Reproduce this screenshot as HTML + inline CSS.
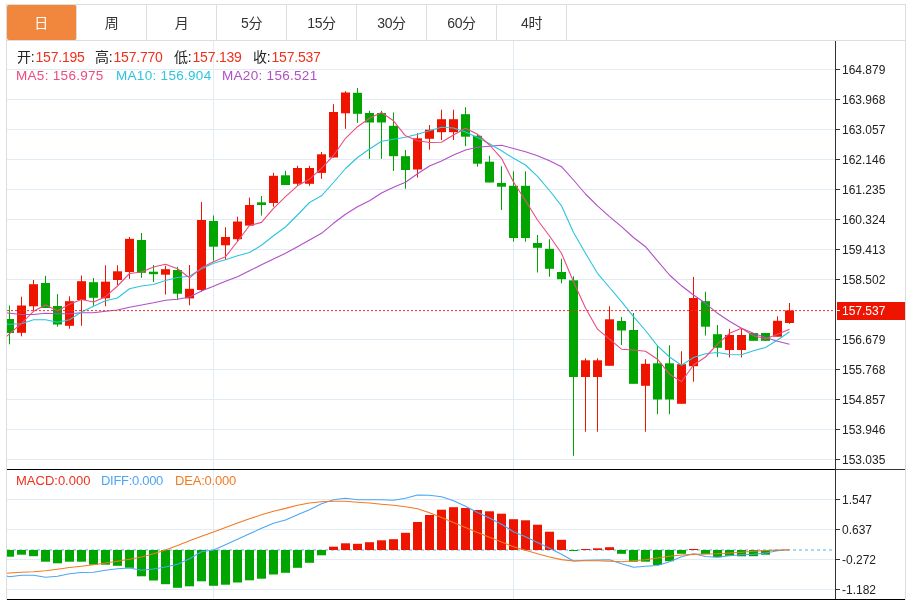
<!DOCTYPE html>
<html lang="zh-CN"><head><meta charset="utf-8"><title>K线图</title>
<style>
html,body{margin:0;padding:0;background:#fff;}
body{width:913px;height:600px;position:relative;overflow:hidden;font-family:"Liberation Sans","Noto Sans CJK SC",sans-serif;}
#frame{position:absolute;left:6px;top:4px;width:898px;height:596px;border:1px solid #ddd;border-bottom:none;box-sizing:content-box;}
#tabline{position:absolute;left:7px;top:40px;width:898px;height:1px;background:#ddd;}
.tab{position:absolute;top:5px;width:69px;height:35px;line-height:37px;text-align:center;font-size:14px;color:#333;border-right:1px solid #ddd;letter-spacing:-0.4px;}
.tab.on{background:#f0873c;color:#fff;border-radius:2px;text-indent:-1px;}
.t{position:absolute;white-space:nowrap;font-size:13px;line-height:16px;}
.ax{position:absolute;left:842px;font-size:12px;line-height:14px;color:#222;white-space:nowrap;}
.r{color:#f0301f}
.a .r{margin-left:1px}
.a{font-size:14px;color:#222;letter-spacing:-0.2px}
.b{font-size:13.5px;letter-spacing:0.3px}
</style></head><body>
<svg width="913" height="600" viewBox="0 0 913 600" style="position:absolute;left:0;top:0">
<defs><clipPath id="cp"><rect x="7" y="41" width="828" height="558"/></clipPath></defs>
<rect x="7" y="69" width="828" height="1" fill="#e1ebf3"/>
<rect x="7" y="99" width="828" height="1" fill="#e1ebf3"/>
<rect x="7" y="129" width="828" height="1" fill="#e1ebf3"/>
<rect x="7" y="159" width="828" height="1" fill="#e1ebf3"/>
<rect x="7" y="189" width="828" height="1" fill="#e1ebf3"/>
<rect x="7" y="219" width="828" height="1" fill="#e1ebf3"/>
<rect x="7" y="249" width="828" height="1" fill="#e1ebf3"/>
<rect x="7" y="279" width="828" height="1" fill="#e1ebf3"/>
<rect x="7" y="339" width="828" height="1" fill="#e1ebf3"/>
<rect x="7" y="369" width="828" height="1" fill="#e1ebf3"/>
<rect x="7" y="399" width="828" height="1" fill="#e1ebf3"/>
<rect x="7" y="429" width="828" height="1" fill="#e1ebf3"/>
<rect x="7" y="459" width="828" height="1" fill="#e1ebf3"/>
<rect x="7" y="499" width="828" height="1" fill="#e1ebf3"/>
<rect x="7" y="529" width="828" height="1" fill="#e1ebf3"/>
<rect x="7" y="559" width="828" height="1" fill="#e1ebf3"/>
<rect x="7" y="589" width="828" height="1" fill="#e1ebf3"/>
<rect x="213" y="41" width="1" height="558" fill="#e1ebf3"/>
<rect x="513" y="41" width="1" height="558" fill="#e1ebf3"/>
<line x1="7" y1="550" x2="832" y2="550" stroke="#a9d9ec" stroke-width="2" stroke-dasharray="3 3" />
<g clip-path="url(#cp)">
<rect x="9" y="305.5" width="1" height="38.8" fill="#00a500"/>
<rect x="5" y="319" width="9" height="14" fill="#00a500"/>
<rect x="21" y="296.7" width="1" height="39.6" fill="#ee1500"/>
<rect x="17" y="305.5" width="9" height="27.3" fill="#ee1500"/>
<rect x="33" y="280" width="1" height="30.8" fill="#ee1500"/>
<rect x="29" y="284.2" width="9" height="22.1" fill="#ee1500"/>
<rect x="45" y="275.8" width="1" height="32.2" fill="#00a500"/>
<rect x="41" y="283" width="9" height="25" fill="#00a500"/>
<rect x="57" y="294.2" width="1" height="32.5" fill="#00a500"/>
<rect x="53" y="306" width="9" height="18.5" fill="#00a500"/>
<rect x="69" y="296.3" width="1" height="32.4" fill="#ee1500"/>
<rect x="65" y="301.2" width="9" height="24.6" fill="#ee1500"/>
<rect x="81" y="275.5" width="1" height="50.3" fill="#ee1500"/>
<rect x="77" y="281.2" width="9" height="18.8" fill="#ee1500"/>
<rect x="93" y="278" width="1" height="27.8" fill="#00a500"/>
<rect x="89" y="282.2" width="9" height="15.6" fill="#00a500"/>
<rect x="105" y="265.3" width="1" height="40.9" fill="#ee1500"/>
<rect x="101" y="281.7" width="9" height="16.6" fill="#ee1500"/>
<rect x="117" y="265.3" width="1" height="19.7" fill="#ee1500"/>
<rect x="113" y="271.3" width="9" height="8.7" fill="#ee1500"/>
<rect x="129" y="237" width="1" height="41.8" fill="#ee1500"/>
<rect x="125" y="238.8" width="9" height="33.2" fill="#ee1500"/>
<rect x="141" y="233" width="1" height="44.8" fill="#00a500"/>
<rect x="137" y="240" width="9" height="32.8" fill="#00a500"/>
<rect x="153" y="265" width="1" height="17" fill="#00a500"/>
<rect x="149" y="271.7" width="9" height="2.5" fill="#00a500"/>
<rect x="165" y="265.8" width="1" height="28.7" fill="#ee1500"/>
<rect x="161" y="269.2" width="9" height="5.5" fill="#ee1500"/>
<rect x="177" y="266.7" width="1" height="33.3" fill="#00a500"/>
<rect x="173" y="270" width="9" height="23.7" fill="#00a500"/>
<rect x="189" y="265" width="1" height="40.3" fill="#ee1500"/>
<rect x="185" y="288.8" width="9" height="9.6" fill="#ee1500"/>
<rect x="201" y="202" width="1" height="89.7" fill="#ee1500"/>
<rect x="197" y="220" width="9" height="70" fill="#ee1500"/>
<rect x="213" y="215.5" width="1" height="45.3" fill="#00a500"/>
<rect x="209" y="221" width="9" height="25.7" fill="#00a500"/>
<rect x="225" y="227.2" width="1" height="32.8" fill="#ee1500"/>
<rect x="221" y="237" width="9" height="8.3" fill="#ee1500"/>
<rect x="237" y="216.7" width="1" height="25" fill="#ee1500"/>
<rect x="233" y="221.5" width="9" height="17.7" fill="#ee1500"/>
<rect x="249" y="197.6" width="1" height="28" fill="#ee1500"/>
<rect x="245" y="205" width="9" height="20.6" fill="#ee1500"/>
<rect x="261" y="196" width="1" height="19.6" fill="#00a500"/>
<rect x="257" y="202.3" width="9" height="2.7" fill="#00a500"/>
<rect x="273" y="172.8" width="1" height="33.9" fill="#ee1500"/>
<rect x="269" y="175.8" width="9" height="27.2" fill="#ee1500"/>
<rect x="285" y="170.8" width="1" height="14.2" fill="#00a500"/>
<rect x="281" y="175.3" width="9" height="9.7" fill="#00a500"/>
<rect x="297" y="165.8" width="1" height="20" fill="#ee1500"/>
<rect x="293" y="168" width="9" height="15.8" fill="#ee1500"/>
<rect x="309" y="165.8" width="1" height="20" fill="#ee1500"/>
<rect x="305" y="168" width="9" height="15.8" fill="#ee1500"/>
<rect x="321" y="152" width="1" height="26.8" fill="#ee1500"/>
<rect x="317" y="154.3" width="9" height="18.6" fill="#ee1500"/>
<rect x="333" y="104.2" width="1" height="53.3" fill="#ee1500"/>
<rect x="329" y="112" width="9" height="45.5" fill="#ee1500"/>
<rect x="345" y="91.2" width="1" height="37.6" fill="#ee1500"/>
<rect x="341" y="92.5" width="9" height="20.8" fill="#ee1500"/>
<rect x="357" y="88" width="1" height="34.8" fill="#00a500"/>
<rect x="353" y="92.8" width="9" height="21" fill="#00a500"/>
<rect x="369" y="110.8" width="1" height="48" fill="#00a500"/>
<rect x="365" y="113" width="9" height="9.5" fill="#00a500"/>
<rect x="381" y="110.8" width="1" height="48" fill="#00a500"/>
<rect x="377" y="113" width="9" height="9.5" fill="#00a500"/>
<rect x="393" y="112.5" width="1" height="58.5" fill="#00a500"/>
<rect x="389" y="125.8" width="9" height="30.4" fill="#00a500"/>
<rect x="405" y="150" width="1" height="38.7" fill="#00a500"/>
<rect x="401" y="156.2" width="9" height="13.8" fill="#00a500"/>
<rect x="417" y="133.3" width="1" height="44.2" fill="#ee1500"/>
<rect x="413" y="138.3" width="9" height="31.2" fill="#ee1500"/>
<rect x="429" y="125" width="1" height="24.7" fill="#ee1500"/>
<rect x="425" y="129.7" width="9" height="9.1" fill="#ee1500"/>
<rect x="441" y="109.7" width="1" height="30.3" fill="#ee1500"/>
<rect x="437" y="119.2" width="9" height="13" fill="#ee1500"/>
<rect x="453" y="109.7" width="1" height="30.3" fill="#ee1500"/>
<rect x="449" y="119.2" width="9" height="13" fill="#ee1500"/>
<rect x="465" y="107.2" width="1" height="39" fill="#00a500"/>
<rect x="461" y="114.2" width="9" height="22.5" fill="#00a500"/>
<rect x="477" y="134.2" width="1" height="32.5" fill="#00a500"/>
<rect x="473" y="135.8" width="9" height="27.9" fill="#00a500"/>
<rect x="489" y="155.8" width="1" height="26.7" fill="#00a500"/>
<rect x="485" y="161.7" width="9" height="20.8" fill="#00a500"/>
<rect x="501" y="166.2" width="1" height="43.8" fill="#00a500"/>
<rect x="497" y="183" width="9" height="3.7" fill="#00a500"/>
<rect x="513" y="171.3" width="1" height="70.4" fill="#00a500"/>
<rect x="509" y="185.8" width="9" height="52.2" fill="#00a500"/>
<rect x="525" y="171.3" width="1" height="70.4" fill="#00a500"/>
<rect x="521" y="185.8" width="9" height="52.2" fill="#00a500"/>
<rect x="537" y="235" width="1" height="37.5" fill="#00a500"/>
<rect x="533" y="243" width="9" height="4.8" fill="#00a500"/>
<rect x="549" y="239.2" width="1" height="37.5" fill="#00a500"/>
<rect x="545" y="248.8" width="9" height="20" fill="#00a500"/>
<rect x="561" y="258.8" width="1" height="24.5" fill="#00a500"/>
<rect x="557" y="272" width="9" height="7.2" fill="#00a500"/>
<rect x="573" y="276.3" width="1" height="179.5" fill="#00a500"/>
<rect x="569" y="280.3" width="9" height="96.7" fill="#00a500"/>
<rect x="585" y="358.3" width="1" height="73.4" fill="#ee1500"/>
<rect x="581" y="360.3" width="9" height="16.7" fill="#ee1500"/>
<rect x="597" y="358.3" width="1" height="73.4" fill="#ee1500"/>
<rect x="593" y="360.3" width="9" height="16.7" fill="#ee1500"/>
<rect x="609" y="306.2" width="1" height="59.6" fill="#ee1500"/>
<rect x="605" y="319.3" width="9" height="46.5" fill="#ee1500"/>
<rect x="621" y="317" width="1" height="28" fill="#00a500"/>
<rect x="617" y="321" width="9" height="9.5" fill="#00a500"/>
<rect x="633" y="313" width="1" height="70.8" fill="#00a500"/>
<rect x="629" y="330" width="9" height="53.8" fill="#00a500"/>
<rect x="645" y="359.2" width="1" height="72.5" fill="#ee1500"/>
<rect x="641" y="363.8" width="9" height="22" fill="#ee1500"/>
<rect x="657" y="345.3" width="1" height="68.9" fill="#00a500"/>
<rect x="653" y="363.3" width="9" height="36.2" fill="#00a500"/>
<rect x="669" y="345.3" width="1" height="68.9" fill="#00a500"/>
<rect x="665" y="363.3" width="9" height="36.2" fill="#00a500"/>
<rect x="681" y="351.2" width="1" height="52.6" fill="#ee1500"/>
<rect x="677" y="364.2" width="9" height="39.6" fill="#ee1500"/>
<rect x="693" y="277" width="1" height="104.7" fill="#ee1500"/>
<rect x="689" y="298" width="9" height="68.2" fill="#ee1500"/>
<rect x="705" y="291.7" width="1" height="43.8" fill="#00a500"/>
<rect x="701" y="301.2" width="9" height="25.5" fill="#00a500"/>
<rect x="717" y="325" width="1" height="32" fill="#00a500"/>
<rect x="713" y="334.2" width="9" height="13.6" fill="#00a500"/>
<rect x="729" y="328.8" width="1" height="28.7" fill="#ee1500"/>
<rect x="725" y="335" width="9" height="15" fill="#ee1500"/>
<rect x="741" y="328.8" width="1" height="28.7" fill="#ee1500"/>
<rect x="737" y="335" width="9" height="15" fill="#ee1500"/>
<rect x="753" y="333" width="1" height="7.8" fill="#00a500"/>
<rect x="749" y="333" width="9" height="7.8" fill="#00a500"/>
<rect x="765" y="333" width="1" height="7.8" fill="#00a500"/>
<rect x="761" y="333" width="9" height="7.8" fill="#00a500"/>
<rect x="777" y="316.3" width="1" height="20.4" fill="#ee1500"/>
<rect x="773" y="320.8" width="9" height="15.9" fill="#ee1500"/>
<rect x="789" y="303" width="1" height="20.8" fill="#ee1500"/>
<rect x="785" y="310.5" width="9" height="12.5" fill="#ee1500"/>
<rect x="5" y="550" width="9" height="6.7" fill="#00a500"/>
<rect x="17" y="550" width="9" height="4.7" fill="#00a500"/>
<rect x="29" y="550" width="9" height="6.2" fill="#00a500"/>
<rect x="41" y="550" width="9" height="11.7" fill="#00a500"/>
<rect x="53" y="550" width="9" height="13.3" fill="#00a500"/>
<rect x="65" y="550" width="9" height="11.7" fill="#00a500"/>
<rect x="77" y="550" width="9" height="11.7" fill="#00a500"/>
<rect x="89" y="550" width="9" height="14.7" fill="#00a500"/>
<rect x="101" y="550" width="9" height="14.7" fill="#00a500"/>
<rect x="113" y="550" width="9" height="15.8" fill="#00a500"/>
<rect x="125" y="550" width="9" height="17.8" fill="#00a500"/>
<rect x="137" y="550" width="9" height="26.3" fill="#00a500"/>
<rect x="149" y="550" width="9" height="30.5" fill="#00a500"/>
<rect x="161" y="550" width="9" height="34.2" fill="#00a500"/>
<rect x="173" y="550" width="9" height="37.8" fill="#00a500"/>
<rect x="185" y="550" width="9" height="36.3" fill="#00a500"/>
<rect x="197" y="550" width="9" height="31.3" fill="#00a500"/>
<rect x="209" y="550" width="9" height="35.8" fill="#00a500"/>
<rect x="221" y="550" width="9" height="34.7" fill="#00a500"/>
<rect x="233" y="550" width="9" height="32.5" fill="#00a500"/>
<rect x="245" y="550" width="9" height="30.3" fill="#00a500"/>
<rect x="257" y="550" width="9" height="28.7" fill="#00a500"/>
<rect x="269" y="550" width="9" height="24.5" fill="#00a500"/>
<rect x="281" y="550" width="9" height="22.8" fill="#00a500"/>
<rect x="293" y="550" width="9" height="17.8" fill="#00a500"/>
<rect x="305" y="550" width="9" height="12.8" fill="#00a500"/>
<rect x="317" y="550" width="9" height="5.3" fill="#00a500"/>
<rect x="329" y="546.7" width="9" height="3.3" fill="#ee1500"/>
<rect x="341" y="543.3" width="9" height="6.7" fill="#ee1500"/>
<rect x="353" y="543.8" width="9" height="6.2" fill="#ee1500"/>
<rect x="365" y="542.2" width="9" height="7.8" fill="#ee1500"/>
<rect x="377" y="540.3" width="9" height="9.7" fill="#ee1500"/>
<rect x="389" y="539.2" width="9" height="10.8" fill="#ee1500"/>
<rect x="401" y="532.8" width="9" height="17.2" fill="#ee1500"/>
<rect x="413" y="522" width="9" height="28" fill="#ee1500"/>
<rect x="425" y="515" width="9" height="35" fill="#ee1500"/>
<rect x="437" y="509.7" width="9" height="40.3" fill="#ee1500"/>
<rect x="449" y="507.2" width="9" height="42.8" fill="#ee1500"/>
<rect x="461" y="508" width="9" height="42" fill="#ee1500"/>
<rect x="473" y="510" width="9" height="40" fill="#ee1500"/>
<rect x="485" y="511.3" width="9" height="38.7" fill="#ee1500"/>
<rect x="497" y="513.7" width="9" height="36.3" fill="#ee1500"/>
<rect x="509" y="519.2" width="9" height="30.8" fill="#ee1500"/>
<rect x="521" y="520.3" width="9" height="29.7" fill="#ee1500"/>
<rect x="533" y="524.7" width="9" height="25.3" fill="#ee1500"/>
<rect x="545" y="531.7" width="9" height="18.3" fill="#ee1500"/>
<rect x="557" y="539.8" width="9" height="10.2" fill="#ee1500"/>
<rect x="569" y="550" width="9" height="1" fill="#00a500"/>
<rect x="581" y="549" width="9" height="1" fill="#ee1500"/>
<rect x="593" y="548.3" width="9" height="1.7" fill="#ee1500"/>
<rect x="605" y="547.2" width="9" height="2.8" fill="#ee1500"/>
<rect x="617" y="550" width="9" height="3.8" fill="#00a500"/>
<rect x="629" y="550" width="9" height="11.7" fill="#00a500"/>
<rect x="641" y="550" width="9" height="11.7" fill="#00a500"/>
<rect x="653" y="550" width="9" height="15" fill="#00a500"/>
<rect x="665" y="550" width="9" height="11.2" fill="#00a500"/>
<rect x="677" y="550" width="9" height="3.8" fill="#00a500"/>
<rect x="689" y="549" width="9" height="1" fill="#ee1500"/>
<rect x="701" y="550" width="9" height="4.2" fill="#00a500"/>
<rect x="713" y="550" width="9" height="7.2" fill="#00a500"/>
<rect x="725" y="550" width="9" height="5.8" fill="#00a500"/>
<rect x="737" y="550" width="9" height="6.3" fill="#00a500"/>
<rect x="749" y="550" width="9" height="6.2" fill="#00a500"/>
<rect x="761" y="550" width="9" height="4.7" fill="#00a500"/>
<rect x="773" y="550" width="9" height="0.8" fill="#00a500"/>
<polyline fill="none" stroke="#b14fc5" stroke-width="1.1" stroke-linejoin="round" points="6.5,313 9.5,313.3 21.5,314.5 33.5,314.5 45.5,313.3 57.5,313.7 69.5,313.7 81.5,312.8 93.5,312.8 105.5,311.3 117.5,310 129.5,307.2 141.5,305 153.5,302.8 165.5,300.2 177.5,299.3 189.5,297 201.5,291 213.5,286.3 225.5,281.3 237.5,276.7 249.5,270.8 261.5,264.7 273.5,259 285.5,253.3 297.5,246.7 309.5,240 321.5,233.3 333.5,223.3 345.5,214.2 357.5,206.7 369.5,200.8 381.5,193 393.5,187.2 405.5,182.2 417.5,173.8 429.5,166 441.5,161 453.5,155 465.5,150 477.5,147.3 489.5,146.2 501.5,145.2 513.5,148.5 525.5,151.7 537.5,155.8 549.5,160.8 561.5,166.7 573.5,180 585.5,194 597.5,205.8 609.5,216.7 621.5,226.7 633.5,237.5 645.5,246.7 657.5,260.8 669.5,275 681.5,285.8 693.5,295 705.5,303.3 717.5,313.3 729.5,321.3 741.5,328.3 753.5,333.3 765.5,337.5 777.5,341.2 789.5,344.2"/>
<polyline fill="none" stroke="#2cc4df" stroke-width="1.1" stroke-linejoin="round" points="6.5,324.3 9.5,324.2 21.5,323.8 33.5,319.7 45.5,319.7 57.5,322.2 69.5,319.7 81.5,312 93.5,306.2 105.5,300.8 117.5,298 129.5,288.8 141.5,286 153.5,284.5 165.5,280.5 177.5,277.5 189.5,276.2 201.5,268.8 213.5,263.3 225.5,259.7 237.5,255.8 249.5,252.5 261.5,245.3 273.5,235.8 285.5,227 297.5,215 309.5,202.5 321.5,195.8 333.5,182.5 345.5,168.5 357.5,157.5 369.5,149 381.5,141.2 393.5,139.2 405.5,137.2 417.5,134.2 429.5,130.8 441.5,127.2 453.5,128 465.5,132 477.5,137.5 489.5,143.8 501.5,150.8 513.5,158.3 525.5,165 537.5,176.3 549.5,190.5 561.5,205.8 573.5,232.5 585.5,253.3 597.5,273.3 609.5,287.5 621.5,301.7 633.5,316.7 645.5,330.5 657.5,345.8 669.5,357 681.5,365.2 693.5,357.5 705.5,353.8 717.5,352.5 729.5,354.5 741.5,354.7 753.5,350.8 765.5,347.5 777.5,340 789.5,331.7"/>
<polyline fill="none" stroke="#ea4c80" stroke-width="1.1" stroke-linejoin="round" points="6.5,336.5 9.5,333.8 21.5,323.3 33.5,311.3 45.5,305 57.5,310.8 69.5,304.2 81.5,299.5 93.5,302 105.5,296.7 117.5,286 129.5,273.5 141.5,272 153.5,267 165.5,264.2 177.5,268.8 189.5,277.8 201.5,267.8 213.5,261.7 225.5,256.7 237.5,241.5 249.5,225.5 261.5,222.4 273.5,208.3 285.5,196.7 297.5,185.8 309.5,179.2 321.5,168.3 333.5,155.5 345.5,138.3 357.5,126.7 369.5,118.3 381.5,112.5 393.5,120.8 405.5,135.8 417.5,140.8 429.5,142.5 441.5,142.3 453.5,135 465.5,128.2 477.5,134.2 489.5,145 501.5,158.3 513.5,182 525.5,200.8 537.5,220 549.5,236 561.5,253.3 573.5,281.7 585.5,308 597.5,329.2 609.5,339.2 621.5,349.2 633.5,350 645.5,351.2 657.5,359.2 669.5,374.2 681.5,381.7 693.5,365 705.5,357 717.5,344.2 729.5,333.3 741.5,328.3 753.5,335.8 765.5,338.8 777.5,334.2 789.5,329.2"/>
<polyline fill="none" stroke="#4da6f5" stroke-width="1.1" stroke-linejoin="round" points="6.5,576 9.5,576.7 21.5,575.3 33.5,575.3 45.5,577.2 57.5,576.3 69.5,573.7 81.5,572.5 93.5,572.2 105.5,570.3 117.5,568.8 129.5,568 141.5,570.2 153.5,569 165.5,567 177.5,564.2 189.5,558.7 201.5,551.7 213.5,550 225.5,544.7 237.5,539.2 249.5,533.8 261.5,528.3 273.5,523.3 285.5,520 297.5,514.7 309.5,509.7 321.5,503.8 333.5,499.7 345.5,498.3 357.5,499.7 369.5,499.7 381.5,499.7 393.5,500.3 405.5,498.3 417.5,495 429.5,495.3 441.5,496.7 453.5,500.8 465.5,506.3 477.5,512.5 489.5,518 501.5,524.2 513.5,531.7 525.5,536.7 537.5,542.5 549.5,548.3 561.5,554.2 573.5,561 585.5,560.3 597.5,560 609.5,559.7 621.5,563.8 633.5,567.2 645.5,566.2 657.5,565.5 669.5,561.7 681.5,556.7 693.5,553.7 705.5,556.5 717.5,557.2 729.5,555.8 741.5,554.7 753.5,554.2 765.5,553 777.5,550.8 789.5,549.7"/>
<polyline fill="none" stroke="#f47a22" stroke-width="1.1" stroke-linejoin="round" points="6.5,573.3 9.5,573 21.5,572.2 33.5,571.7 45.5,570.8 57.5,569.2 69.5,567.5 81.5,566.2 93.5,564.7 105.5,563 117.5,561.2 129.5,559.2 141.5,557 153.5,553.8 165.5,550 177.5,545.5 189.5,540.8 201.5,536.3 213.5,532 225.5,527.5 237.5,523 249.5,518.8 261.5,514.7 273.5,511.2 285.5,508.4 297.5,505.3 309.5,503 321.5,501.7 333.5,501.2 345.5,501.3 357.5,502.2 369.5,503 381.5,504.2 393.5,505.3 405.5,506.7 417.5,508.8 429.5,512.7 441.5,517.5 453.5,522.5 465.5,527.5 477.5,532.5 489.5,537.2 501.5,542 513.5,546.7 525.5,550.3 537.5,553.8 549.5,557 561.5,559.6 573.5,561 585.5,560.8 597.5,560.8 609.5,561.2 621.5,561.7 633.5,560.8 645.5,559.7 657.5,558 669.5,556.2 681.5,555 693.5,554.4 705.5,554 717.5,553.7 729.5,553 741.5,552.2 753.5,551.3 765.5,550.5 777.5,550 789.5,549.7"/>
</g>
<line x1="7" y1="310.6" x2="835" y2="310.6" stroke="#f0301f" stroke-width="1" stroke-dasharray="2 2"/>
<rect x="835" y="41" width="1" height="559" fill="#333"/>
<rect x="7" y="469" width="828" height="1" fill="#000"/>
<rect x="835" y="469" width="70" height="1" fill="#333"/>
<rect x="7" y="599" width="898" height="1" fill="#000"/>
<rect x="836" y="69" width="4" height="1" fill="#333"/>
<rect x="836" y="99" width="4" height="1" fill="#333"/>
<rect x="836" y="129" width="4" height="1" fill="#333"/>
<rect x="836" y="159" width="4" height="1" fill="#333"/>
<rect x="836" y="189" width="4" height="1" fill="#333"/>
<rect x="836" y="219" width="4" height="1" fill="#333"/>
<rect x="836" y="249" width="4" height="1" fill="#333"/>
<rect x="836" y="279" width="4" height="1" fill="#333"/>
<rect x="836" y="339" width="4" height="1" fill="#333"/>
<rect x="836" y="369" width="4" height="1" fill="#333"/>
<rect x="836" y="399" width="4" height="1" fill="#333"/>
<rect x="836" y="429" width="4" height="1" fill="#333"/>
<rect x="836" y="459" width="4" height="1" fill="#333"/>
<rect x="836" y="499" width="4" height="1" fill="#333"/>
<rect x="836" y="529" width="4" height="1" fill="#333"/>
<rect x="836" y="559" width="4" height="1" fill="#333"/>
<rect x="836" y="589" width="4" height="1" fill="#333"/>
<rect x="837" y="302" width="68" height="18" fill="#ee1500"/>
<rect x="837" y="310" width="3" height="1" fill="#fff"/>
</svg>
<div id="frame"></div><div id="tabline"></div>
<div class="tab on" style="left:7px">日</div>
<div class="tab" style="left:77px">周</div>
<div class="tab" style="left:147px">月</div>
<div class="tab" style="left:217px">5分</div>
<div class="tab" style="left:287px">15分</div>
<div class="tab" style="left:357px">30分</div>
<div class="tab" style="left:427px">60分</div>
<div class="tab" style="left:497px">4时</div>
<div class="t a" style="left:17px;top:49px">开:<span class="r">157.195</span></div>
<div class="t a" style="left:95px;top:49px">高:<span class="r">157.770</span></div>
<div class="t a" style="left:174px;top:49px">低:<span class="r">157.139</span></div>
<div class="t a" style="left:253px;top:49px">收:<span class="r">157.537</span></div>
<div class="t b" style="left:16px;top:68px;color:#ea4c80">MA5: 156.975</div>
<div class="t b" style="left:116px;top:68px;color:#2cc4df">MA10: 156.904</div>
<div class="t b" style="left:222px;top:68px;color:#b14fc5">MA20: 156.521</div>
<div class="t" style="left:16px;top:473px;color:#f0301f">MACD:0.000</div>
<div class="t" style="left:101px;top:473px;color:#4da6f5;letter-spacing:-0.3px">DIFF:0.000</div>
<div class="t" style="left:175px;top:473px;color:#f47a22;letter-spacing:-0.2px">DEA:0.000</div>
<div class="ax" style="top:63px">164.879</div>
<div class="ax" style="top:93px">163.968</div>
<div class="ax" style="top:123px">163.057</div>
<div class="ax" style="top:153px">162.146</div>
<div class="ax" style="top:183px">161.235</div>
<div class="ax" style="top:213px">160.324</div>
<div class="ax" style="top:243px">159.413</div>
<div class="ax" style="top:273px">158.502</div>
<div class="ax" style="top:333px">156.679</div>
<div class="ax" style="top:363px">155.768</div>
<div class="ax" style="top:393px">154.857</div>
<div class="ax" style="top:423px">153.946</div>
<div class="ax" style="top:453px">153.035</div>
<div class="ax" style="top:493px">1.547</div>
<div class="ax" style="top:523px">0.637</div>
<div class="ax" style="top:553px">-0.272</div>
<div class="ax" style="top:583px">-1.182</div>
<div class="ax" style="top:304px;color:#fff">157.537</div>
</body></html>
